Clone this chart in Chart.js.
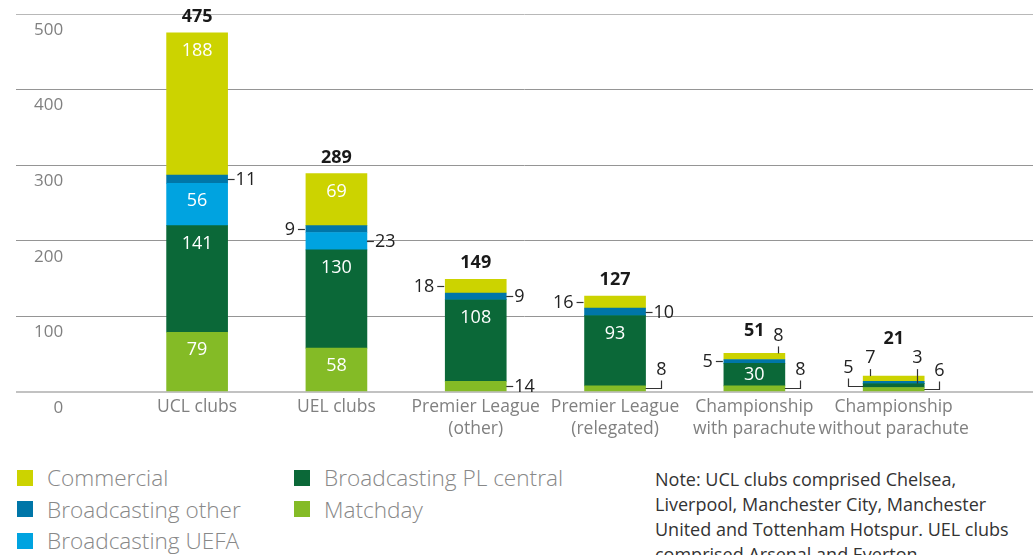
<!DOCTYPE html>
<html>
<head>
<meta charset="utf-8">
<title>Revenue by club group</title>
<script src="https://cdn.jsdelivr.net/npm/chart.js@4.4.1/dist/chart.umd.min.js"></script>
<style>
  html, body { margin: 0; padding: 0; background: #fff; }
  body { width: 1033px; height: 555px; overflow: hidden; position: relative; font-family: "Open Sans", sans-serif; }
  .chart-box { position: absolute; left: 0; top: 0; width: 1033px; height: 452px; }
  .legend { position: absolute; left: 17px; top: 462px; display: grid; grid-auto-flow: column;
    grid-template-rows: repeat(3, 31.5px); grid-template-columns: 277px 300px; }
  .legend-item { display: flex; align-items: center; font-size: 22.6px; font-weight: 300; color: #888; white-space: nowrap; }
  .legend-item i { width: 16px; height: 16px; margin-right: 14px; flex: none; }
  .note { position: absolute; left: 655px; top: 467px; font-size: 18px; line-height: 25px; color: #333; white-space: pre; }
</style>
</head>
<body>
<div class="chart-box"><canvas id="revenueChart"></canvas></div>
<div class="legend" id="legend"></div>
<div class="note">Note: UCL clubs comprised Chelsea,
Liverpool, Manchester City, Manchester
United and Tottenham Hotspur. UEL clubs
comprised Arsenal and Everton.</div>
<script>
const categories = [
  ["UCL clubs"], ["UEL clubs"],
  ["Premier League", "(other)"], ["Premier League", "(relegated)"],
  ["Championship", "with parachute"], ["Championship", "without parachute"]
];
const matchday = [79, 58, 14, 8, 8, 6];
const plCentral = [141, 130, 108, 93, 30, 5];
const uefa = [56, 23, 0, 0, 0, 0];
const otherBroadcasting = [11, 9, 9, 10, 5, 3];
const commercial = [188, 69, 18, 16, 8, 7];
const totals = [475, 289, 149, 127, 51, 21];
const yTicks = [0, 100, 200, 300, 400, 500];

// bottom of the stack first
const series = [
  { label: "Matchday", data: matchday, color: "#84bb26",
    spots: ["in", "in", "right", "elbowRight", "elbowRight", "elbowRight"] },
  { label: "Broadcasting PL central", data: plCentral, color: "#0b6838",
    spots: ["in", "in", "in", "in", "in", "elbowLeft"] },
  { label: "Broadcasting UEFA", data: uefa, color: "#00a3e0",
    spots: ["in", "right", null, null, null, null] },
  { label: "Broadcasting other", data: otherBroadcasting, color: "#0076a8",
    spots: ["right", "left", "right", "right", "left", "upRight"] },
  { label: "Commercial", data: commercial, color: "#ccd300",
    spots: ["in", "in", "left", "left", "upRight", "upLeft"] }
];

const labelFont = '18px "Open Sans"';
const totalFont = 'bold 18px "Open Sans"';

const barLabels = {
  id: "barLabels",
  afterDatasetsDraw(chart) {
    const { ctx } = chart;
    const bars = [];
    chart.data.datasets.forEach((ds, d) => {
      chart.getDatasetMeta(d).data.forEach((bar, i) => {
        const value = ds.data[i].y;
        if (!value) return;
        const p = bar.getProps(["x", "y", "base", "width"], true);
        bars.push({ ...p, i, d, value, spot: ds.spots[i] });
      });
    });
    const lastSet = chart.data.datasets.length - 1;
    const tops = categories.map((c, i) => Math.min(...bars.filter(b => b.i === i).map(b => b.y)));
    const ups = categories.map((c, i) => bars.filter(b => b.i === i && /^up/.test(b.spot)).length);

    const line = pts => {
      ctx.beginPath();
      pts.forEach(([px, py], k) => k ? ctx.lineTo(px, py) : ctx.moveTo(px, py));
      ctx.stroke();
    };
    const crisp = v => Math.round(v) + 0.5;

    ctx.save();
    ctx.textBaseline = "middle";
    ctx.strokeStyle = "#333";
    ctx.lineWidth = 1.2;
    bars.forEach(b => {
      const left = b.x - b.width / 2, right = b.x + b.width / 2;
      const mid = crisp((b.y + b.base) / 2);
      const h = b.base - b.y;
      const top = tops[b.i];
      const txt = String(b.value);
      ctx.font = labelFont;
      ctx.fillStyle = "#222";
      ctx.textAlign = "center";
      if (b.spot === "in") {
        ctx.fillStyle = "#fff";
        ctx.fillText(txt, b.x, b.y + Math.min(18, h / 2));
      } else if (b.spot === "right") {
        line([[right, mid], [right + 7, mid]]);
        ctx.textAlign = "left";
        ctx.fillText(txt, right + 8, mid);
      } else if (b.spot === "left") {
        line([[left - 1, mid], [left - 8, mid]]);
        ctx.textAlign = "right";
        ctx.fillText(txt, left - 11, mid);
      } else if (b.spot === "elbowRight" || b.spot === "elbowLeft") {
        const lx = crisp(b.spot === "elbowRight" ? right + 15 : left - 15);
        line([[b.spot === "elbowRight" ? right : left, mid], [lx, mid], [lx, mid - 8]]);
        ctx.fillText(txt, lx, mid - 19);
      } else if (b.spot === "upRight" || b.spot === "upLeft") {
        const lx = crisp(b.spot === "upRight" ? right - 7 : left + 7);
        const from = b.d === lastSet ? b.y : mid;
        line([[lx, from], [lx, top - 7]]);
        ctx.fillText(txt, lx, top - 18);
      }
    });

    ctx.font = totalFont;
    ctx.fillStyle = "#1a1a1a";
    ctx.textAlign = "center";
    const lift = [0, 7, 21];
    totals.forEach((t, i) => {
      const x = chart.scales.x.getPixelForValue(i);
      ctx.fillText(String(t), x, tops[i] - 16 - lift[ups[i]]);
    });
    ctx.restore();
  }
};

const gridColor = c => c.tick.value === 0 ? "#c2c2c2" : c.tick.value === 500 ? "#b8b8b8" : "#959595";

const chart = new Chart(document.getElementById("revenueChart"), {
  type: "bar",
  data: {
    datasets: series.map(s => ({
      label: s.label,
      data: s.data.map((v, i) => ({ x: i, y: v })),
      backgroundColor: s.color,
      borderWidth: 0,
      barThickness: 61,
      spots: s.spots
    }))
  },
  options: {
    responsive: true,
    maintainAspectRatio: false,
    animation: false,
    layout: { padding: { left: 16, top: 14, right: 0, bottom: 0 } },
    plugins: { legend: { display: false }, tooltip: { enabled: false } },
    scales: {
      x: {
        type: "linear",
        min: -1.3,
        max: 6,
        offset: false,
        stacked: true,
        grid: { display: false, drawTicks: false },
        border: { display: false },
        afterBuildTicks: s => { s.ticks = categories.map((c, i) => ({ value: i })); },
        afterFit: s => { s.height = 60; s.paddingLeft = 0; s.paddingRight = 0; },
        ticks: {
          autoSkip: false,
          maxRotation: 0,
          padding: 4,
          color: "#808080",
          font: { family: "Open Sans", size: 17.5, lineHeight: 1.25 },
          callback: v => categories[v]
        }
      },
      y: {
        min: 0,
        max: 500,
        stacked: true,
        afterBuildTicks: s => { s.ticks = yTicks.map(v => ({ value: v })); },
        afterFit: s => { s.width = 0; s.paddingTop = 0; s.paddingBottom = 0; },
        border: { display: false },
        grid: {
          drawTicks: false,
          color: gridColor,
          lineWidth: c => c.tick.value === 0 ? 2 : 1
        },
        ticks: {
          mirror: true,
          crossAlign: "far",
          padding: 18,
          labelOffset: 16,
          color: "#808080",
          font: { family: "Open Sans", size: 17 }
        }
      }
    }
  },
  plugins: [barLabels]
});

const legend = document.getElementById("legend");
chart.data.datasets.slice().reverse().forEach(ds => {
  const item = document.createElement("div");
  item.className = "legend-item";
  item.innerHTML = `<i style="background:${ds.backgroundColor}"></i>${ds.label}`;
  legend.appendChild(item);
});
</script>
</body>
</html>
